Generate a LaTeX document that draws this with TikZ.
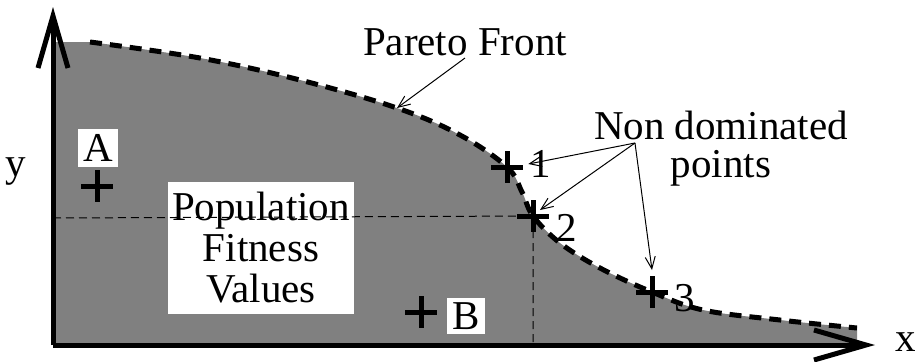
\documentclass[tikz,border=0pt]{standalone}
\usepackage{fontspec}
\setmainfont{Liberation Serif}
\usetikzlibrary{arrows.meta}

\begin{document}
\begin{tikzpicture}[x=0.5pt, y=-0.5pt, font=\fontsize{20.5}{20.5}\selectfont,
  axis/.style={line width=2.5pt, -{Straight Barb[length=26pt,width=15pt,line width=2.5pt]}},
  front/.style={line width=2.5pt, dash pattern=on 6pt off 4pt},
  guide/.style={line width=0.5pt, dash pattern=on 4pt off 2.5pt},
  plus/.style={line width=2.5pt},
  lbl/.style={fill=white, inner sep=2.5pt},
  arr/.style={line width=0.5pt, -{Straight Barb[length=6pt,width=5pt]}}]
\useasboundingbox (0,0) rectangle (918,361);
% the dominated region
\fill[black!50] (53,42) -- (90,42)
  -- plot[smooth, tension=0.6] coordinates {(90,42) (200,58) (300,80) (397,108) (460,135) (507,167) (522,192) (533,216) (560,243) (600,268) (652,292) (703,310) (780,320) (857,328)}
  -- (857,343) -- (53,343) -- cycle;
\draw[front] plot[smooth, tension=0.6] coordinates {(90,42) (200,58) (300,80) (397,108) (460,135) (507,167) (522,192) (533,216) (560,243) (600,268) (652,292) (703,310) (780,320) (857,328)};
% points
\coordinate (pa) at (97,186);
\coordinate (pb) at (421,312);
\coordinate (p1) at (507,167);
\coordinate (p2) at (533,216);
\coordinate (p3) at (652,292);
\foreach \p in {pa,pb,p1,p2,p3}
  \draw[plus] (\p) +(-16,0) -- +(16,0) (\p) +(0,-16) -- +(0,16);
\coordinate (ox) at (53,218);
\coordinate (oy) at (533,343);
\node[lbl, inner xsep=2pt, inner ysep=5pt, align=center] (pop) at (261,248) {Population\\ Fitness\\ Values};
\draw[guide] (ox) -- (p2) -- (oy);
% axes
\coordinate (org) at (53,345);
\draw[axis] (org) -- (53,7);
\draw[axis] (org) -- (875,345);
\node (ylab) at (16,172) {y};
\node (xlab) at (906,342) {x};
% labels
\node[lbl] (la) at (98,148) {A};
\node[lbl] (lb) at (466,316) {B};
\node[inner sep=1pt] (l1) at (541,164) {1};
\node[inner sep=1pt] (l2) at (567,228) {2};
\node[inner sep=1pt] (l3) at (685,298) {3};
\node (pf) at (465,42) {Pareto Front};
\node[align=center, font=\fontsize{20.5}{19}\selectfont] (nd) at (721,149) {Non dominated\\ points};
\coordinate (ndo) at (635,143);
\coordinate (pfo) at (465,58);
\coordinate (pft) at (397,108);
\coordinate (t2) at (540,210);
\coordinate (t3) at (652,270);
\draw[arr] (pfo) -- (pft);
\draw[arr] (ndo) -- (l1.west);
\draw[arr] (ndo) -- (t2);
\draw[arr] (ndo) -- (t3);
\end{tikzpicture}
\end{document}
